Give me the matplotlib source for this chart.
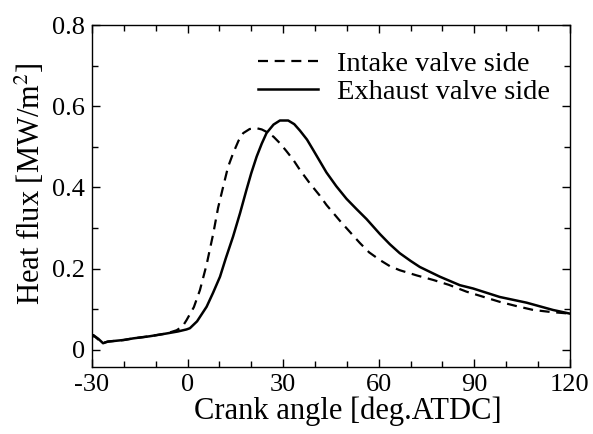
import matplotlib
matplotlib.use("Agg")
import matplotlib.pyplot as plt
from matplotlib.ticker import MultipleLocator

# crank angle [deg ATDC] and heat flux [MW/m2]
intake_angle = [-30, -29.6, -28, -26.5, -25, -20, -17, -12, -6.6, -3.4, -1.5, -0.3, 2, 3.9, 6, 8.1,
                9.6, 11.2, 12.7, 14.3, 16, 17.5, 19.5, 21.7, 23.3, 24.8, 27, 29, 31, 33.2, 35.3,
                38.4, 41.5, 43.6, 47.8, 51, 54.1, 57, 60.4, 63.5, 66.6, 72, 77.1, 82, 87.6,
                93, 98, 103, 108.5, 114, 120]
intake_flux = [0.03, 0.036, 0.025, 0.017, 0.02, 0.024, 0.028, 0.033, 0.04, 0.048, 0.058, 0.073, 0.105, 0.147, 0.21, 0.287,
               0.35, 0.402, 0.45, 0.484, 0.515, 0.534, 0.544, 0.546, 0.543, 0.537, 0.525, 0.509, 0.49, 0.468, 0.443,
               0.41, 0.38, 0.357, 0.318, 0.29, 0.263, 0.24, 0.221, 0.206, 0.196, 0.183, 0.172, 0.16, 0.143,
               0.13, 0.118, 0.108, 0.098, 0.093, 0.089]

exhaust_angle = [-30, -29.6, -28, -26.5, -25, -20, -17, -12, -6.6, -3, -0.3, 0.75, 3, 6.0, 8, 10.2,
                 12, 14.3, 16.5, 18.5, 20, 21.7, 23.3, 24.8, 27, 29.0, 31.6, 33.5, 35.3, 37.5,
                 39.4, 41.5, 43.6, 46.7, 49.9, 53, 56.2, 60.4, 63.5, 66.6, 70, 72.9, 79.2, 85.5,
                 89.6, 98.0, 106.4, 114.7, 120]
exhaust_flux = [0.03, 0.036, 0.027, 0.016, 0.02, 0.024, 0.028, 0.033, 0.04, 0.045, 0.05, 0.053, 0.07, 0.106, 0.14, 0.18,
                0.225, 0.279, 0.337, 0.394, 0.435, 0.476, 0.508, 0.534, 0.555, 0.565, 0.565, 0.556, 0.54, 0.518,
                0.493, 0.465, 0.437, 0.403, 0.372, 0.347, 0.322, 0.285, 0.26, 0.238, 0.219, 0.204, 0.18, 0.159,
                0.151, 0.13, 0.116, 0.098, 0.089]

plt.rcParams["font.family"] = ["Liberation Serif", "DejaVu Serif"]
plt.rcParams["mathtext.fontset"] = "stix"

fig = plt.figure(figsize=(5.93, 4.34), dpi=100)
ax = fig.add_axes([0.155, 0.154, 0.806, 0.788])

ax.plot(intake_angle, intake_flux, color="black", lw=1.6, ls=(0, (4.5, 3)), label="Intake valve side")
ax.plot(exhaust_angle, exhaust_flux, color="black", lw=1.8, ls="-", label="Exhaust valve side")

ax.set_xlim(-30, 120)
ax.set_ylim(-0.043, 0.8)
ax.xaxis.set_minor_locator(MultipleLocator(10))
ax.yaxis.set_minor_locator(MultipleLocator(0.1))
ax.set_xticks([-30, 0, 30, 60, 90, 120])
ax.set_xticklabels(["-30", "0", "30", "60", "90", "120"])
ax.set_yticks([0, 0.2, 0.4, 0.6, 0.8])
ax.set_yticklabels(["0", "0.2", "0.4", "0.6", "0.8"])
ax.tick_params(which="both", direction="in", top=True, right=True, labelsize=19, width=1.0, pad=5)
ax.tick_params(which="major", length=6)
ax.tick_params(which="minor", length=4)
for s in ax.spines.values():
    s.set_linewidth(1.0)

ax.set_xlabel("Crank angle [deg.ATDC]", fontsize=22, labelpad=2)
ax.xaxis.set_label_coords(0.536, -0.085)
ax.set_ylabel("Heat flux [MW/m$^2$]", fontsize=22, labelpad=3)
ax.yaxis.set_label_coords(-0.095, 0.538)

ax.legend(loc="upper right", bbox_to_anchor=(1.013, 1.0), frameon=False, fontsize=20.5,
          handlelength=2.1, handletextpad=0.7, labelspacing=0.07, borderaxespad=0.5, borderpad=0.4)

fig.savefig("out.png", dpi=100)
